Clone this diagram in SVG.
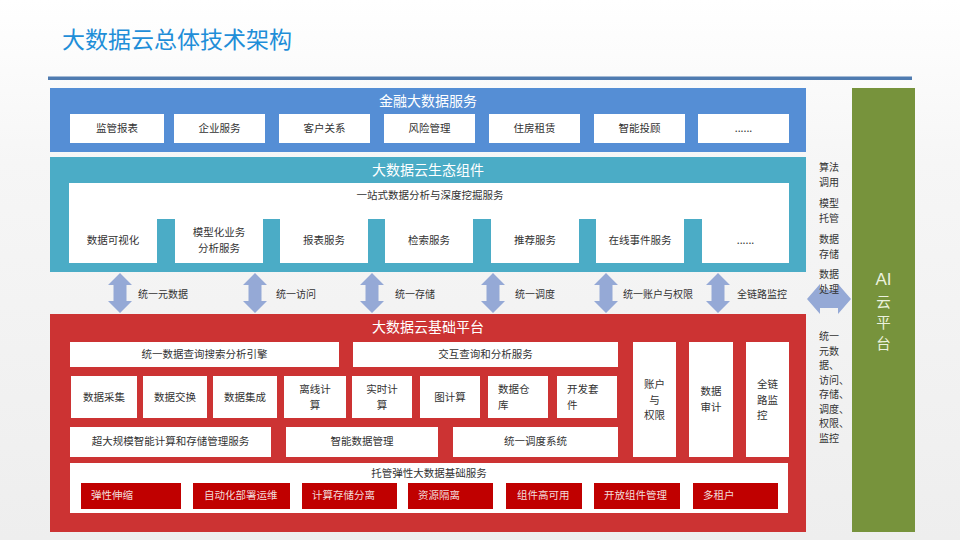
<svg xmlns="http://www.w3.org/2000/svg" width="960" height="540" viewBox="0 0 960 540">
<defs>
<linearGradient id="bg" x1="0" y1="0" x2="0" y2="1">
<stop offset="0" stop-color="#ffffff"/>
<stop offset="0.3" stop-color="#f6f6f6"/>
<stop offset="1" stop-color="#eeeeee"/>
</linearGradient>
<path id="varrow" d="M0,0 L12,12 L6.5,12 L6.5,28 L12,28 L0,40 L-12,28 L-6.5,28 L-6.5,12 L-12,12 Z"/>
</defs>
<style>
text{font-family:"Noto Sans CJK SC","Liberation Sans",sans-serif;}
.wb{fill:#ffffff;}
.bt{font-size:10.5px;fill:#333333;text-anchor:middle;}
.st{font-size:14px;fill:#ffffff;text-anchor:middle;}
.rb{fill:#c00000;}
.rt{font-size:10.5px;fill:#f2dcdb;}
.arr{fill:#95a9d6;}
.lab{font-size:10px;fill:#333333;}
.side{font-size:10px;fill:#333333;}
.ai{font-size:14.5px;fill:#ebf1de;text-anchor:middle;}
</style>
<rect x="0" y="0" width="960" height="540" fill="url(#bg)"/>
<text x="62" y="48" style="font-size:23px;fill:#1f8ed8;">大数据云总体技术架构</text>
<rect x="48" y="76.5" width="864" height="3.5" fill="#4f7bb0"/>

<g id="finance">
<rect x="50" y="88" width="756" height="64" fill="#558ed5"/>
<text class="st" x="428" y="106">金融大数据服务</text>
<rect class="wb" x="70" y="114" width="94" height="29"/><text class="bt" x="117" y="132">监管报表</text>
<rect class="wb" x="174" y="114" width="91" height="29"/><text class="bt" x="219.5" y="132">企业服务</text>
<rect class="wb" x="279" y="114" width="91" height="29"/><text class="bt" x="324.5" y="132">客户关系</text>
<rect class="wb" x="384" y="114" width="91" height="29"/><text class="bt" x="429.5" y="132">风险管理</text>
<rect class="wb" x="489" y="114" width="91" height="29"/><text class="bt" x="534.5" y="132">住房租赁</text>
<rect class="wb" x="594" y="114" width="91" height="29"/><text class="bt" x="639.5" y="132">智能投顾</text>
<rect class="wb" x="698" y="114" width="91" height="29"/><text class="bt" x="743.5" y="132">......</text>
</g>

<g id="ecosystem">
<rect x="50" y="157" width="756" height="115" fill="#4bacc6"/>
<text class="st" x="428" y="175">大数据云生态组件</text>
<rect class="wb" x="69" y="183" width="720" height="36"/>
<text class="bt" x="430" y="199">一站式数据分析与深度挖掘服务</text>
<rect class="wb" x="69" y="218" width="88" height="45"/><text class="bt" x="113" y="244">数据可视化</text>
<rect class="wb" x="175" y="218" width="88" height="45"/><text class="bt" y="236"><tspan x="219">模型化业务</tspan><tspan x="219" dy="15.5">分析服务</tspan></text>
<rect class="wb" x="280" y="218" width="88" height="45"/><text class="bt" x="324" y="244">报表服务</text>
<rect class="wb" x="385" y="218" width="88" height="45"/><text class="bt" x="429" y="244">检索服务</text>
<rect class="wb" x="491" y="218" width="88" height="45"/><text class="bt" x="535" y="244">推荐服务</text>
<rect class="wb" x="596" y="218" width="88" height="45"/><text class="bt" x="640" y="244">在线事件服务</text>
<rect class="wb" x="702" y="218" width="87" height="45"/><text class="bt" x="745.5" y="244">......</text>
</g>

<g id="connectors">
<use href="#varrow" class="arr" x="120" y="273"/>
<use href="#varrow" class="arr" x="255" y="273"/>
<use href="#varrow" class="arr" x="372" y="273"/>
<use href="#varrow" class="arr" x="493" y="273"/>
<use href="#varrow" class="arr" x="606" y="273"/>
<use href="#varrow" class="arr" x="718" y="273"/>
<path class="arr" d="M807,299 L820,284 L820,290 L838,290 L838,284 L851,299 L838,314 L838,308 L820,308 L820,314 Z"/>
</g>
<g id="connector-labels">
<text class="lab" x="138" y="298">统一元数据</text>
<text class="lab" x="276" y="298">统一访问</text>
<text class="lab" x="395" y="298">统一存储</text>
<text class="lab" x="515" y="298">统一调度</text>
<text class="lab" x="623" y="298">统一账户与权限</text>
<text class="lab" x="737" y="298">全链路监控</text>
</g>

<g id="platform">
<rect x="50" y="314" width="756" height="218" fill="#cc3333"/>
<text class="st" x="428" y="332">大数据云基础平台</text>
<rect class="wb" x="70" y="342" width="269" height="25"/><text class="bt" x="204.5" y="358">统一数据查询搜索分析引擎</text>
<rect class="wb" x="353" y="342" width="265" height="25"/><text class="bt" x="485.5" y="358">交互查询和分析服务</text>
<rect class="wb" x="71" y="376" width="66" height="42"/><text class="bt" x="104" y="401">数据采集</text>
<rect class="wb" x="143" y="376" width="64" height="42"/><text class="bt" x="175" y="401">数据交换</text>
<rect class="wb" x="213" y="376" width="64" height="42"/><text class="bt" x="245" y="401">数据集成</text>
<rect class="wb" x="284" y="376" width="62" height="42"/><text class="bt" y="393"><tspan x="315">离线计</tspan><tspan x="315" dy="15.5">算</tspan></text>
<rect class="wb" x="352" y="376" width="60" height="42"/><text class="bt" y="393"><tspan x="382">实时计</tspan><tspan x="382" dy="15.5">算</tspan></text>
<rect class="wb" x="420" y="376" width="60" height="42"/><text class="bt" x="450" y="401">图计算</text>
<rect class="wb" x="488" y="376" width="60" height="42"/><text class="bt" y="393" style="text-anchor:start"><tspan x="498">数据仓</tspan><tspan x="498" dy="15.5">库</tspan></text>
<rect class="wb" x="557" y="376" width="60" height="42"/><text class="bt" y="393" style="text-anchor:start"><tspan x="567">开发套</tspan><tspan x="567" dy="15.5">件</tspan></text>
<rect class="wb" x="633" y="342" width="43" height="115"/><text class="bt" y="388"><tspan x="654.5">账户</tspan><tspan x="654.5" dy="15.5">与</tspan><tspan x="654.5" dy="15.5">权限</tspan></text>
<rect class="wb" x="689" y="342" width="44" height="115"/><text class="bt" y="395"><tspan x="711">数据</tspan><tspan x="711" dy="15.5">审计</tspan></text>
<rect class="wb" x="746" y="342" width="43" height="115"/><text class="bt" y="388" style="text-anchor:start"><tspan x="757">全链</tspan><tspan x="757" dy="15.5">路监</tspan><tspan x="757" dy="15.5">控</tspan></text>
<rect class="wb" x="70" y="427" width="201" height="30"/><text class="bt" x="170.5" y="445">超大规模智能计算和存储管理服务</text>
<rect class="wb" x="286" y="427" width="152" height="30"/><text class="bt" x="362" y="445">智能数据管理</text>
<rect class="wb" x="453" y="427" width="165" height="30"/><text class="bt" x="535.5" y="445">统一调度系统</text>
<rect class="wb" x="70" y="463" width="718" height="50"/>
<text class="bt" x="429" y="477">托管弹性大数据基础服务</text>
<rect class="rb" x="81" y="483" width="100" height="26"/><text class="rt" x="91" y="499">弹性伸缩</text>
<rect class="rb" x="193" y="483" width="97" height="26"/><text class="rt" x="204" y="499">自动化部署运维</text>
<rect class="rb" x="302" y="483" width="95" height="26"/><text class="rt" x="312" y="499">计算存储分离</text>
<rect class="rb" x="408" y="483" width="85" height="26"/><text class="rt" x="418" y="499">资源隔离</text>
<rect class="rb" x="506" y="483" width="76" height="26"/><text class="rt" x="517" y="499">组件高可用</text>
<rect class="rb" x="594" y="483" width="86" height="26"/><text class="rt" x="604" y="499">开放组件管理</text>
<rect class="rb" x="693" y="483" width="85" height="26"/><text class="rt" x="703" y="499">多租户</text>
</g>

<g id="side-labels">
<text class="side" y="171"><tspan x="819">算法</tspan><tspan x="819" dy="14.5">调用</tspan></text>
<text class="side" y="207"><tspan x="819">模型</tspan><tspan x="819" dy="14.5">托管</tspan></text>
<text class="side" y="243"><tspan x="819">数据</tspan><tspan x="819" dy="14.5">存储</tspan></text>
<text class="side" y="278"><tspan x="819">数据</tspan><tspan x="819" dy="14.5">处理</tspan></text>
<text class="side" y="340"><tspan x="819">统一</tspan><tspan x="819" dy="14.5">元数</tspan><tspan x="819" dy="14.5">据、</tspan><tspan x="819" dy="14.5">访问、</tspan><tspan x="819" dy="14.5">存储、</tspan><tspan x="819" dy="14.5">调度、</tspan><tspan x="819" dy="14.5">权限、</tspan><tspan x="819" dy="14.5">监控</tspan></text>
</g>

<g id="ai-platform">
<rect x="852" y="88" width="63" height="444" fill="#77933c"/>
<text class="ai" y="285"><tspan x="883.5" style="font-family:'Liberation Sans',sans-serif;font-size:17px;">AI</tspan><tspan x="883.5" dy="22">云</tspan><tspan x="883.5" dy="21">平</tspan><tspan x="883.5" dy="21">台</tspan></text>
</g>
</svg>
